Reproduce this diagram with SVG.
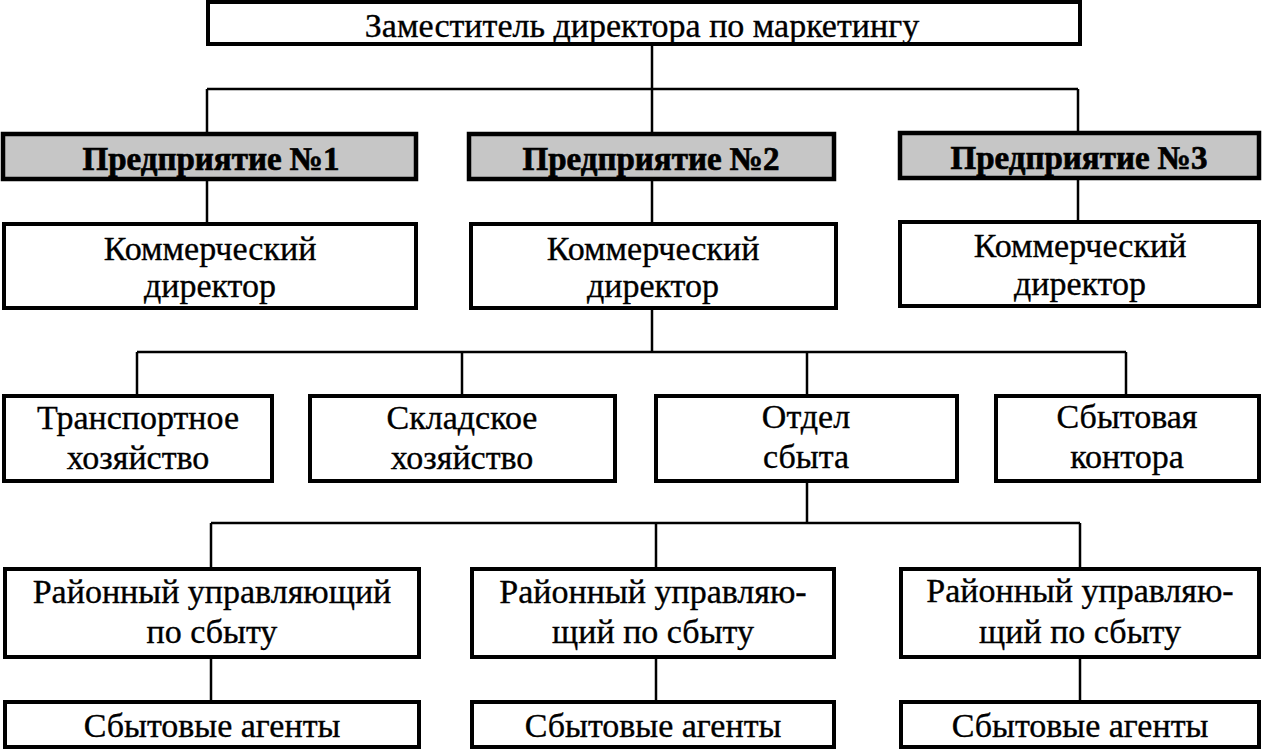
<svg xmlns="http://www.w3.org/2000/svg" width="1265" height="755" viewBox="0 0 1265 755">
  <style>
    .box { fill: #ffffff; stroke: #000000; stroke-width: 4; }
    .shade { fill: #c6c6c6; stroke: #000000; stroke-width: 4.5; }
    .t { font-family: "Liberation Serif", "Times New Roman", serif; font-size: 34px; fill: #000000; text-anchor: middle; stroke: #000000; stroke-width: 0.35; }
    .tb { font-family: "Liberation Serif", "Times New Roman", serif; font-size: 33px; font-weight: bold; fill: #000000; text-anchor: middle; stroke: #000000; stroke-width: 0.7; }
    .c { fill: none; stroke: #000000; stroke-width: 2.5; }
  </style>
  <rect width="1265" height="755" fill="#ffffff"/>

  <g id="connectors">
    <path class="c" d="M652 46 V89 M207 89 H1078 M207 89 V134 M652 89 V134 M1078 89 V134"/>
    <path class="c" d="M207 179 V224 M652 179 V224 M1078 179 V222"/>
    <path class="c" d="M652 308 V352 M137 352 H1126 M137 352 V396 M462 352 V396 M807 352 V396 M1126 352 V396"/>
    <path class="c" d="M807 481 V523 M211 523 H1080 M211 523 V569 M656 523 V569 M1080 523 V569"/>
    <path class="c" d="M211 657 V702 M656 657 V702 M1080 657 V702"/>
  </g>

  <g id="n-deputy">
    <rect class="box" x="208" y="2" width="872" height="42"/>
    <text class="t" x="642" y="37">Заместитель директора по маркетингу</text>
  </g>

  <g id="n-ent1">
    <rect class="shade" x="3" y="134" width="413" height="45"/>
    <text class="tb" x="211" y="170">Предприятие №1</text>
  </g>
  <g id="n-ent2">
    <rect class="shade" x="469" y="134" width="365" height="45"/>
    <text class="tb" x="651" y="170">Предприятие №2</text>
  </g>
  <g id="n-ent3">
    <rect class="shade" x="900" y="133" width="359" height="45"/>
    <text class="tb" x="1079" y="169">Предприятие №3</text>
  </g>

  <g id="n-cd1">
    <rect class="box" x="4" y="224" width="412" height="84"/>
    <text class="t" x="210" y="260">Коммерческий</text>
    <text class="t" x="210" y="297">директор</text>
  </g>
  <g id="n-cd2">
    <rect class="box" x="471" y="224" width="365" height="84"/>
    <text class="t" x="653" y="260">Коммерческий</text>
    <text class="t" x="653" y="297">директор</text>
  </g>
  <g id="n-cd3">
    <rect class="box" x="900" y="222" width="359" height="84"/>
    <text class="t" x="1080" y="257">Коммерческий</text>
    <text class="t" x="1080" y="295">директор</text>
  </g>

  <g id="n-transport">
    <rect class="box" x="4" y="396" width="268" height="85"/>
    <text class="t" x="138" y="429">Транспортное</text>
    <text class="t" x="138" y="469">хозяйство</text>
  </g>
  <g id="n-warehouse">
    <rect class="box" x="310" y="396" width="305" height="85"/>
    <text class="t" x="462" y="429">Складское</text>
    <text class="t" x="462" y="469">хозяйство</text>
  </g>
  <g id="n-sales-dept">
    <rect class="box" x="656" y="396" width="301" height="85"/>
    <text class="t" x="806" y="428">Отдел</text>
    <text class="t" x="806" y="468">сбыта</text>
  </g>
  <g id="n-sales-office">
    <rect class="box" x="996" y="396" width="263" height="85"/>
    <text class="t" x="1127" y="428">Сбытовая</text>
    <text class="t" x="1127" y="468">контора</text>
  </g>

  <g id="n-rm1">
    <rect class="box" x="5" y="569" width="414" height="88"/>
    <text class="t" x="212" y="603">Районный управляющий</text>
    <text class="t" x="212" y="643">по сбыту</text>
  </g>
  <g id="n-rm2">
    <rect class="box" x="472" y="569" width="362" height="88"/>
    <text class="t" x="653" y="603">Районный управляю-</text>
    <text class="t" x="653" y="643">щий по сбыту</text>
  </g>
  <g id="n-rm3">
    <rect class="box" x="901" y="569" width="358" height="88"/>
    <text class="t" x="1080" y="602">Районный управляю-</text>
    <text class="t" x="1080" y="643">щий по сбыту</text>
  </g>

  <g id="n-agents1">
    <rect class="box" x="5" y="702" width="414" height="45"/>
    <text class="t" x="212" y="737">Сбытовые агенты</text>
  </g>
  <g id="n-agents2">
    <rect class="box" x="472" y="702" width="362" height="45"/>
    <text class="t" x="653" y="737">Сбытовые агенты</text>
  </g>
  <g id="n-agents3">
    <rect class="box" x="901" y="702" width="358" height="45"/>
    <text class="t" x="1080" y="737">Сбытовые агенты</text>
  </g>
</svg>
